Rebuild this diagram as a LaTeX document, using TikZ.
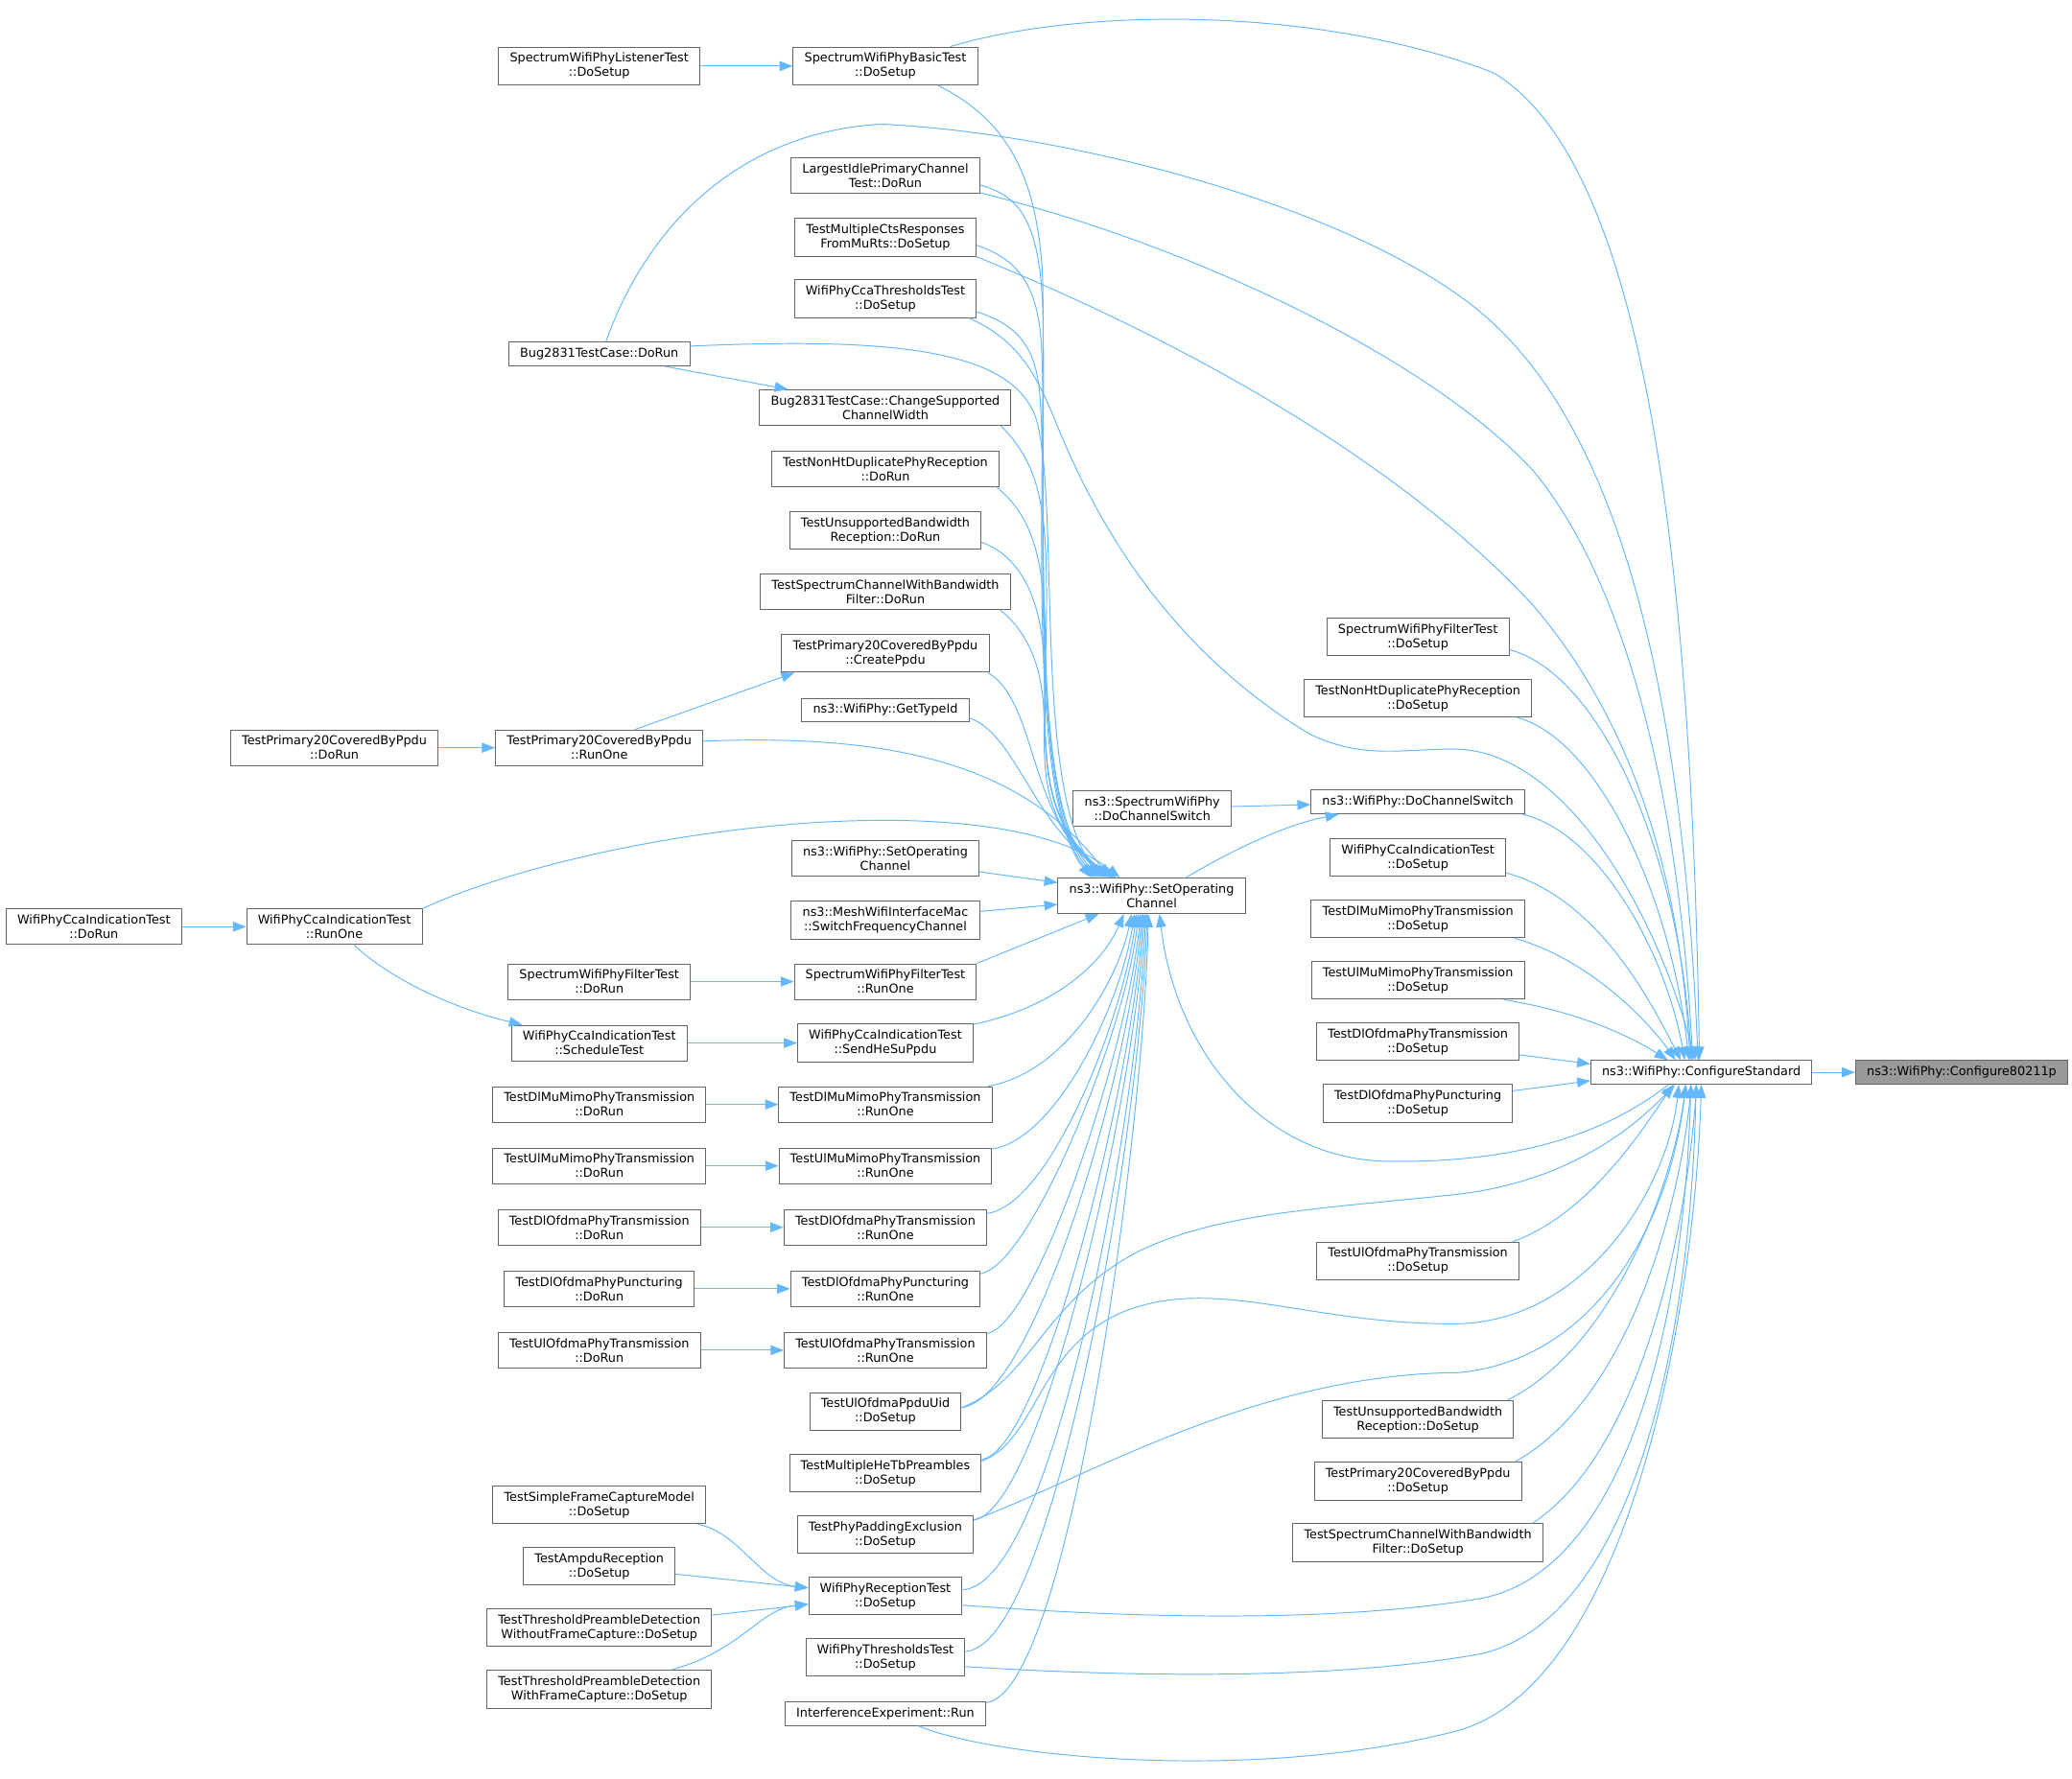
\documentclass[tikz,border=0pt]{standalone}
\usepackage{fontspec}
\setmainfont{DejaVu Sans}
\usepackage{xcolor}
\usepackage{tikz}
\usetikzlibrary{arrows.meta}
\definecolor{callblue}{HTML}{63B8FF}
\definecolor{boxgray}{HTML}{666666}
\definecolor{rootgray}{HTML}{999999}

\begin{document}
\begin{tikzpicture}[x=1pt, y=-1pt,
    fnbox/.style={draw=boxgray, fill=white, line width=0.7pt, align=center, inner xsep=8.5pt, inner ysep=4.4pt, minimum height=18pt, font=\fontsize{9.3}{10.9}\selectfont},
    rootbox/.style={fnbox, fill=rootgray},
    callarrow/.style={draw=callblue, line width=0.7pt, -{Triangle[length=10pt, width=7.5pt]}}]
    \path[use as bounding box, fill=white] (0,0) rectangle (1568,1346);

    \node[fnbox] (listener) at (453.5,50) {SpectrumWifiPhyListenerTest\\::DoSetup};
    \node[fnbox] (basic) at (670,50) {SpectrumWifiPhyBasicTest\\::DoSetup};
    \node[fnbox] (largest) at (670,133) {LargestIdlePrimaryChannel\\Test::DoRun};
    \node[fnbox] (multicts) at (670,179.5) {TestMultipleCtsResponses\\FromMuRts::DoSetup};
    \node[fnbox] (ccathr) at (670,226) {WifiPhyCcaThresholdsTest\\::DoSetup};
    \node[fnbox] (bugrun) at (453.5,268) {Bug2831TestCase::DoRun};
    \node[fnbox] (bugwidth) at (670,308.5) {Bug2831TestCase::ChangeSupported\\ChannelWidth};
    \node[fnbox] (nonhtrun) at (670,355) {TestNonHtDuplicatePhyReception\\::DoRun};
    \node[fnbox] (unsuprun) at (670,401.5) {TestUnsupportedBandwidth\\Reception::DoRun};
    \node[fnbox] (specbwrun) at (670,448) {TestSpectrumChannelWithBandwidth\\Filter::DoRun};
    \node[fnbox] (p20ppdu) at (670,494.5) {TestPrimary20CoveredByPpdu\\::CreatePpdu};
    \node[fnbox] (typeid) at (670,537.5) {ns3::WifiPhy::GetTypeId};
    \node[fnbox] (p20dorun) at (253,566) {TestPrimary20CoveredByPpdu\\::DoRun};
    \node[fnbox] (p20runone) at (453.5,566) {TestPrimary20CoveredByPpdu\\::RunOne};
    \node[fnbox] (setopleft) at (670,650) {ns3::WifiPhy::SetOperating\\Channel};
    \node[fnbox] (mesh) at (670,696.5) {ns3::MeshWifiInterfaceMac\\::SwitchFrequencyChannel};
    \node[fnbox] (ccadorun) at (71,701.5) {WifiPhyCcaIndicationTest\\::DoRun};
    \node[fnbox] (ccarunone) at (253,701.5) {WifiPhyCcaIndicationTest\\::RunOne};
    \node[fnbox] (filterrun) at (453.5,743) {SpectrumWifiPhyFilterTest\\::DoRun};
    \node[fnbox] (filterrunone) at (670,743) {SpectrumWifiPhyFilterTest\\::RunOne};
    \node[fnbox] (ccasched) at (453.5,789.5) {WifiPhyCcaIndicationTest\\::ScheduleTest};
    \node[fnbox] (ccasend) at (670,789.5) {WifiPhyCcaIndicationTest\\::SendHeSuPpdu};
    \node[fnbox] (dlmurun) at (453.5,836) {TestDlMuMimoPhyTransmission\\::DoRun};
    \node[fnbox] (dlmurunone) at (670,836) {TestDlMuMimoPhyTransmission\\::RunOne};
    \node[fnbox] (ulmurun) at (453.5,882.5) {TestUlMuMimoPhyTransmission\\::DoRun};
    \node[fnbox] (ulmurunone) at (670,882.5) {TestUlMuMimoPhyTransmission\\::RunOne};
    \node[fnbox] (dlofrun) at (453.5,929) {TestDlOfdmaPhyTransmission\\::DoRun};
    \node[fnbox] (dlofrunone) at (670,929) {TestDlOfdmaPhyTransmission\\::RunOne};
    \node[fnbox] (punctrun) at (453.5,975.5) {TestDlOfdmaPhyPuncturing\\::DoRun};
    \node[fnbox] (punctrunone) at (670,975.5) {TestDlOfdmaPhyPuncturing\\::RunOne};
    \node[fnbox] (ulofrun) at (453.5,1022) {TestUlOfdmaPhyTransmission\\::DoRun};
    \node[fnbox] (ulofrunone) at (670,1022) {TestUlOfdmaPhyTransmission\\::RunOne};
    \node[fnbox] (ppduuid) at (670,1068.5) {TestUlOfdmaPpduUid\\::DoSetup};
    \node[fnbox] (hetb) at (670,1115) {TestMultipleHeTbPreambles\\::DoSetup};
    \node[fnbox] (capture) at (453.5,1139) {TestSimpleFrameCaptureModel\\::DoSetup};
    \node[fnbox] (padding) at (670,1161.5) {TestPhyPaddingExclusion\\::DoSetup};
    \node[fnbox] (ampdu) at (453.5,1185.5) {TestAmpduReception\\::DoSetup};
    \node[fnbox] (reception) at (670,1208) {WifiPhyReceptionTest\\::DoSetup};
    \node[fnbox] (detectno) at (453.5,1232) {TestThresholdPreambleDetection\\WithoutFrameCapture::DoSetup};
    \node[fnbox] (thresholds) at (670,1254.5) {WifiPhyThresholdsTest\\::DoSetup};
    \node[fnbox] (detectfc) at (453.5,1278.5) {TestThresholdPreambleDetection\\WithFrameCapture::DoSetup};
    \node[fnbox] (interf) at (670,1297) {InterferenceExperiment::Run};
    \node[fnbox] (setop) at (871.5,678) {ns3::WifiPhy::SetOperating\\Channel};
    \node[fnbox] (specswitch) at (872,612) {ns3::SpectrumWifiPhy\\::DoChannelSwitch};
    \node[fnbox] (chswitch) at (1073,607) {ns3::WifiPhy::DoChannelSwitch};
    \node[fnbox] (filtersetup) at (1073,482) {SpectrumWifiPhyFilterTest\\::DoSetup};
    \node[fnbox] (nonhtsetup) at (1073,528.5) {TestNonHtDuplicatePhyReception\\::DoSetup};
    \node[fnbox] (ccasetup) at (1073,649) {WifiPhyCcaIndicationTest\\::DoSetup};
    \node[fnbox] (dlmusetup) at (1073,695.5) {TestDlMuMimoPhyTransmission\\::DoSetup};
    \node[fnbox] (ulmusetup) at (1073,742) {TestUlMuMimoPhyTransmission\\::DoSetup};
    \node[fnbox] (dlofsetup) at (1073,788.5) {TestDlOfdmaPhyTransmission\\::DoSetup};
    \node[fnbox] (punctsetup) at (1073,835) {TestDlOfdmaPhyPuncturing\\::DoSetup};
    \node[fnbox] (ulofsetup) at (1073,954.5) {TestUlOfdmaPhyTransmission\\::DoSetup};
    \node[fnbox] (unsupsetup) at (1073,1074.5) {TestUnsupportedBandwidth\\Reception::DoSetup};
    \node[fnbox] (p20setup) at (1073,1121) {TestPrimary20CoveredByPpdu\\::DoSetup};
    \node[fnbox] (specbwsetup) at (1073,1167.5) {TestSpectrumChannelWithBandwidth\\Filter::DoSetup};
    \node[fnbox] (standard) at (1287.5,811.7) {ns3::WifiPhy::ConfigureStandard};
    \node[rootbox] (p80211) at (1484.5,811.7) {ns3::WifiPhy::Configure80211p};

    \draw[callarrow] (listener) -- (basic);
    \draw[callarrow] (bugrun) -- (bugwidth);
    \draw[callarrow] ([xshift=27pt]p20runone.north) -- ([xshift=10pt]p20ppdu.south west);
    \draw[callarrow] (p20dorun) -- (p20runone);
    \draw[callarrow] (ccadorun) -- (ccarunone);
    \draw[callarrow] (ccarunone) .. controls (300,745) and (350,765) .. (ccasched);
    \draw[callarrow] (filterrun) -- (filterrunone);
    \draw[callarrow] (ccasched) -- (ccasend);
    \draw[callarrow] (dlmurun) -- (dlmurunone);
    \draw[callarrow] (ulmurun) -- (ulmurunone);
    \draw[callarrow] (dlofrun) -- (dlofrunone);
    \draw[callarrow] (punctrun) -- (punctrunone);
    \draw[callarrow] (ulofrun) -- (ulofrunone);
    \draw[callarrow] (capture) .. controls (560,1160) and (575,1198) .. (reception);
    \draw[callarrow] (ampdu) -- (reception);
    \draw[callarrow] (detectno) -- (reception);
    \draw[callarrow] (detectfc) .. controls (560,1250) and (575,1218) .. (reception);
    \draw[callarrow] (setopleft) -- (setop);
    \draw[callarrow] (mesh) -- (setop);
    \draw[callarrow] (specswitch) -- (chswitch);
    \draw[callarrow] ([xshift=26pt]setop.north) .. controls (930,645) and (970,625) .. ([xshift=-60pt]chswitch.south);
    \draw[callarrow] (standard) -- (p80211);

    \draw[callarrow] ([xshift=40pt]basic.south) .. controls (760,90) and (785,130) .. (789,210) .. controls (792,350) and (775,600) .. ([xshift=-46pt]setop.north);
    \draw[callarrow] ([yshift=-7pt]largest.east) .. controls (770,148) and (786,165) .. (789,230) .. controls (793,350) and (776,605) .. ([xshift=-44pt]setop.north);
    \draw[callarrow] ([yshift=-6pt]multicts.east) .. controls (770,196) and (785,215) .. (788,260) .. controls (794,370) and (777,605) .. ([xshift=-42pt]setop.north);
    \draw[callarrow] ([yshift=-10pt]ccathr.east) .. controls (770,246) and (784,262) .. (787,300) .. controls (794,400) and (778,605) .. ([xshift=-40pt]setop.north);
    \draw[callarrow] ([yshift=6pt]bugrun.east) .. controls (680,255) and (770,265) .. (785,320) .. controls (802,390) and (782,600) .. ([xshift=-38pt]setop.north);
    \draw[callarrow] ([xshift=-8pt]bugwidth.south east) .. controls (785,350) and (792,380) .. (792,450) .. controls (792,550) and (780,610) .. ([xshift=-36pt]setop.north);
    \draw[callarrow] ([xshift=-2pt]nonhtrun.south east) .. controls (780,390) and (790,420) .. (791,480) .. controls (792,560) and (782,612) .. ([xshift=-34pt]setop.north);
    \draw[callarrow] ([yshift=-9pt]unsuprun.east) .. controls (770,420) and (788,450) .. (790,500) .. controls (792,570) and (784,615) .. ([xshift=-32pt]setop.north);
    \draw[callarrow] ([xshift=-8pt]specbwrun.south east) .. controls (780,480) and (790,510) .. (790,545) .. controls (790,590) and (790,625) .. ([xshift=-30pt]setop.north);
    \draw[callarrow] ([xshift=-1pt]p20ppdu.south east) .. controls (786,532) and (778,625) .. ([xshift=-29pt]setop.north);
    \draw[callarrow] ([yshift=-6pt]typeid.east) .. controls (770,556) and (782,628) .. ([xshift=-27pt]setop.north);
    \draw[callarrow] ([yshift=5pt]p20runone.east) .. controls (660,556) and (770,572) .. ([xshift=-32pt]setop.north);
    \draw[callarrow] (ccarunone.north east) .. controls (450,628) and (750,588) .. ([xshift=-24pt]setop.north);

    \draw[callarrow] (filterrunone.north east) -- ([xshift=-40pt]setop.south);
    \draw[callarrow] (ccasend) .. controls (800,762) and (835,728) .. ([xshift=-21pt]setop.south);
    \draw[callarrow] (dlmurunone) .. controls (805,812) and (845,745) .. ([xshift=-15pt]setop.south);
    \draw[callarrow] (ulmurunone) .. controls (800,862) and (848,760) .. ([xshift=-13pt]setop.south);
    \draw[callarrow] (dlofrunone) .. controls (795,912) and (850,770) .. ([xshift=-11.5pt]setop.south);
    \draw[callarrow] (punctrunone) .. controls (780,958) and (852,780) .. ([xshift=-10pt]setop.south);
    \draw[callarrow] (ulofrunone) .. controls (785,1003) and (854,790) .. ([xshift=-8.5pt]setop.south);
    \draw[callarrow] ([yshift=3pt]ppduuid.east) .. controls (785,1058) and (856,800) .. ([xshift=-7.5pt]setop.south);
    \draw[callarrow] (hetb) .. controls (790,1098) and (858,810) .. ([xshift=-6.5pt]setop.south);
    \draw[callarrow] (padding) .. controls (790,1142) and (860,820) .. ([xshift=-5.5pt]setop.south);
    \draw[callarrow] (reception) .. controls (800,1198) and (862,830) .. ([xshift=-4.5pt]setop.south);
    \draw[callarrow] (thresholds) .. controls (800,1245) and (864,840) .. ([xshift=-3.5pt]setop.south);
    \draw[callarrow] (interf) .. controls (810,1282) and (866,850) .. ([xshift=-2.5pt]setop.south);
    \draw[callarrow] ([xshift=-25pt]standard.south) .. controls (1200,870) and (1120,880) .. (1050,879) .. controls (960,878) and (890,800) .. ([xshift=6pt]setop.south);

    \draw[callarrow] ([xshift=49pt]basic.north) .. controls (820,5) and (1000,5) .. (1130,55) .. controls (1240,120) and (1280,400) .. ([xshift=-1.5pt]standard.north);
    \draw[callarrow] ([xshift=5pt]bugrun.north) .. controls (490,170) and (560,100) .. (667,94) .. controls (800,100) and (1000,150) .. (1103,223) .. controls (1200,290) and (1270,450) .. ([xshift=-2.5pt]standard.north);
    \draw[callarrow] ([yshift=-13pt]largest.east) .. controls (900,185) and (1080,270) .. (1160,356) .. controls (1230,440) and (1270,600) .. ([xshift=-6.5pt]standard.north);
    \draw[callarrow] (multicts.south east) .. controls (900,260) and (1060,350) .. (1160,458) .. controls (1230,540) and (1270,650) .. ([xshift=-8.5pt]standard.north);
    \draw[callarrow] ([xshift=-6pt]ccathr.south east) .. controls (772,258) and (785,285) .. (800,322) .. controls (840,420) and (900,500) .. (990,555) .. controls (1030,575) and (1060,567) .. (1100,567) .. controls (1180,567) and (1250,680) .. ([xshift=-4.5pt]standard.north);
    \draw[callarrow] ([yshift=5pt]filtersetup.south east) .. controls (1210,510) and (1270,640) .. ([xshift=-7.5pt]standard.north);
    \draw[callarrow] ([xshift=-11pt]nonhtsetup.south east) .. controls (1210,560) and (1265,680) .. ([xshift=-9.5pt]standard.north);
    \draw[callarrow] ([xshift=-2pt]chswitch.south east) .. controls (1210,630) and (1260,720) .. ([xshift=-12.5pt]standard.north);
    \draw[callarrow] ([yshift=3pt]ccasetup.south east) .. controls (1210,680) and (1250,760) .. ([xshift=-15.5pt]standard.north);
    \draw[callarrow] ([xshift=-8pt]dlmusetup.south east) .. controls (1200,725) and (1245,770) .. ([xshift=-19.5pt]standard.north);
    \draw[callarrow] ([xshift=-16pt]ulmusetup.south east) .. controls (1190,765) and (1230,782) .. ([xshift=-25.5pt]standard.north);
    \draw[callarrow] (dlofsetup) -- ([yshift=-3pt]standard.north west);
    \draw[callarrow] (punctsetup) -- ([yshift=3pt]standard.south west);
    \draw[callarrow] ([xshift=-5pt]ulofsetup.north east) .. controls (1200,920) and (1240,860) .. ([xshift=-21.5pt]standard.south);
    \draw[callarrow] ([xshift=-5pt]unsupsetup.north east) .. controls (1220,1020) and (1265,900) .. ([xshift=-11.5pt]standard.south);
    \draw[callarrow] ([xshift=-5pt]p20setup.north east) .. controls (1230,1060) and (1270,920) .. ([xshift=-7.5pt]standard.south);
    \draw[callarrow] ([xshift=-8pt]specbwsetup.north east) .. controls (1240,1100) and (1275,940) .. ([xshift=-3.5pt]standard.south);
    \draw[callarrow] ([yshift=3pt]ppduuid.east) .. controls (780,1045) and (790,985) .. (860,948) .. controls (920,918) and (1000,915) .. (1103,904) .. controls (1180,895) and (1230,860) .. ([xshift=-20pt]standard.south);
    \draw[callarrow] ([yshift=9pt]hetb.east) .. controls (785,1090) and (785,1020) .. (850,993) .. controls (920,965) and (990,1003) .. (1103,1002) .. controls (1200,1000) and (1262,900) .. ([xshift=-17pt]standard.south);
    \draw[callarrow] ([yshift=11pt]padding.east) .. controls (820,1120) and (950,1040) .. (1103,1039) .. controls (1210,1030) and (1265,920) .. ([xshift=-12pt]standard.south);
    \draw[callarrow] ([yshift=-7pt]reception.east) .. controls (900,1228) and (1030,1225) .. (1120,1210) .. controls (1230,1190) and (1275,1000) .. ([xshift=-8pt]standard.south);
    \draw[callarrow] ([yshift=-7pt]thresholds.east) .. controls (900,1272) and (1030,1268) .. (1120,1252) .. controls (1240,1225) and (1280,1000) .. ([xshift=-4pt]standard.south);
    \draw[callarrow] ([xshift=25pt]interf.south) .. controls (750,1330) and (950,1350) .. (1103,1310) .. controls (1230,1275) and (1282,1000) .. (standard.south);
\end{tikzpicture}
\end{document}
